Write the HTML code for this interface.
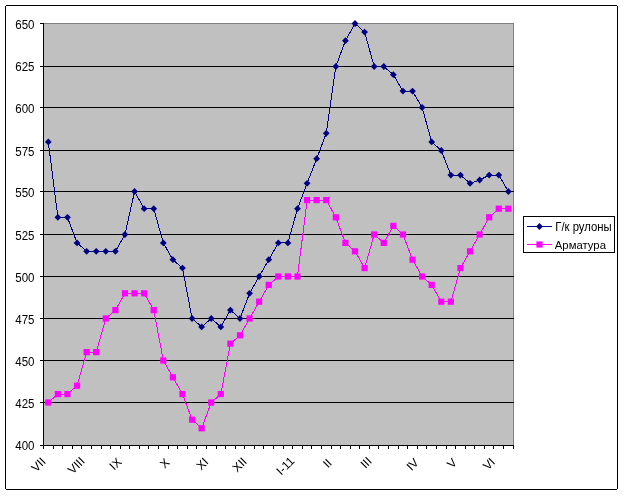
<!DOCTYPE html>
<html><head><meta charset="utf-8"><style>
html,body{margin:0;padding:0;background:#fff;width:628px;height:496px;overflow:hidden;font-family:"Liberation Sans", sans-serif;}
svg{display:block;will-change:transform;}
</style></head><body>
<svg width="628" height="496" viewBox="0 0 628 496">
<rect x="0" y="0" width="628" height="496" fill="#fff"/>
<g shape-rendering="crispEdges" fill="#000">
<rect x="6" y="5" width="611" height="1"/>
<rect x="6" y="489" width="611" height="1"/>
<rect x="5" y="6" width="1" height="483"/>
<rect x="617" y="6" width="1" height="483"/>
</g>
<g shape-rendering="crispEdges">
<rect x="44" y="24" width="469" height="421" fill="#C0C0C0"/>
<rect x="44" y="23" width="470" height="1" fill="#808080"/>
<rect x="513" y="23" width="1" height="422" fill="#808080"/>
<rect x="40" y="23" width="4" height="1" fill="#000"/>
<rect x="40" y="66" width="474" height="1" fill="#000"/>
<rect x="40" y="107" width="474" height="1" fill="#000"/>
<rect x="40" y="150" width="474" height="1" fill="#000"/>
<rect x="40" y="191" width="474" height="1" fill="#000"/>
<rect x="40" y="234" width="474" height="1" fill="#000"/>
<rect x="40" y="276" width="474" height="1" fill="#000"/>
<rect x="40" y="318" width="474" height="1" fill="#000"/>
<rect x="40" y="360" width="474" height="1" fill="#000"/>
<rect x="40" y="402" width="474" height="1" fill="#000"/>
<rect x="40" y="445" width="474" height="1" fill="#000"/>
<rect x="43" y="23" width="1" height="423" fill="#000"/>
<rect x="43" y="445" width="1" height="4" fill="#000"/>
<rect x="53" y="445" width="1" height="4" fill="#000"/>
<rect x="62" y="445" width="1" height="4" fill="#000"/>
<rect x="72" y="445" width="1" height="4" fill="#000"/>
<rect x="81" y="445" width="1" height="4" fill="#000"/>
<rect x="91" y="445" width="1" height="4" fill="#000"/>
<rect x="101" y="445" width="1" height="4" fill="#000"/>
<rect x="110" y="445" width="1" height="4" fill="#000"/>
<rect x="120" y="445" width="1" height="4" fill="#000"/>
<rect x="129" y="445" width="1" height="4" fill="#000"/>
<rect x="139" y="445" width="1" height="4" fill="#000"/>
<rect x="148" y="445" width="1" height="4" fill="#000"/>
<rect x="158" y="445" width="1" height="4" fill="#000"/>
<rect x="168" y="445" width="1" height="4" fill="#000"/>
<rect x="177" y="445" width="1" height="4" fill="#000"/>
<rect x="187" y="445" width="1" height="4" fill="#000"/>
<rect x="196" y="445" width="1" height="4" fill="#000"/>
<rect x="206" y="445" width="1" height="4" fill="#000"/>
<rect x="216" y="445" width="1" height="4" fill="#000"/>
<rect x="225" y="445" width="1" height="4" fill="#000"/>
<rect x="235" y="445" width="1" height="4" fill="#000"/>
<rect x="244" y="445" width="1" height="4" fill="#000"/>
<rect x="254" y="445" width="1" height="4" fill="#000"/>
<rect x="263" y="445" width="1" height="4" fill="#000"/>
<rect x="273" y="445" width="1" height="4" fill="#000"/>
<rect x="283" y="445" width="1" height="4" fill="#000"/>
<rect x="292" y="445" width="1" height="4" fill="#000"/>
<rect x="302" y="445" width="1" height="4" fill="#000"/>
<rect x="311" y="445" width="1" height="4" fill="#000"/>
<rect x="321" y="445" width="1" height="4" fill="#000"/>
<rect x="331" y="445" width="1" height="4" fill="#000"/>
<rect x="340" y="445" width="1" height="4" fill="#000"/>
<rect x="350" y="445" width="1" height="4" fill="#000"/>
<rect x="359" y="445" width="1" height="4" fill="#000"/>
<rect x="369" y="445" width="1" height="4" fill="#000"/>
<rect x="378" y="445" width="1" height="4" fill="#000"/>
<rect x="388" y="445" width="1" height="4" fill="#000"/>
<rect x="398" y="445" width="1" height="4" fill="#000"/>
<rect x="407" y="445" width="1" height="4" fill="#000"/>
<rect x="417" y="445" width="1" height="4" fill="#000"/>
<rect x="426" y="445" width="1" height="4" fill="#000"/>
<rect x="436" y="445" width="1" height="4" fill="#000"/>
<rect x="446" y="445" width="1" height="4" fill="#000"/>
<rect x="455" y="445" width="1" height="4" fill="#000"/>
<rect x="465" y="445" width="1" height="4" fill="#000"/>
<rect x="474" y="445" width="1" height="4" fill="#000"/>
<rect x="484" y="445" width="1" height="4" fill="#000"/>
<rect x="493" y="445" width="1" height="4" fill="#000"/>
<rect x="503" y="445" width="1" height="4" fill="#000"/>
<rect x="513" y="445" width="1" height="4" fill="#000"/>
</g>
<polyline points="48.29,402.50 57.88,394.10 67.46,394.10 77.05,385.70 86.63,352.10 96.22,352.10 105.80,318.50 115.39,310.10 124.97,293.30 134.56,293.30 144.14,293.30 153.73,310.10 163.31,360.50 172.90,377.30 182.48,394.10 192.07,419.70 201.65,428.30 211.24,402.50 220.82,394.10 230.41,343.70 239.99,335.30 249.58,318.50 259.16,301.70 268.75,284.90 278.33,276.50 287.92,276.50 297.50,276.50 307.09,200.10 316.67,200.10 326.26,200.10 335.84,217.30 345.43,242.90 355.01,251.30 364.60,268.10 374.18,234.50 383.77,242.90 393.35,225.90 402.94,234.50 412.52,259.70 422.11,276.50 431.69,284.90 441.28,301.70 450.86,301.70 460.45,268.10 470.03,251.30 479.62,234.50 489.20,217.30 498.79,208.70 508.37,208.70" fill="none" stroke="#FF00FF" stroke-width="1" shape-rendering="crispEdges"/>
<rect x="45.19" y="399.40" width="6.2" height="6.2" fill="#FF00FF"/>
<rect x="54.78" y="391.00" width="6.2" height="6.2" fill="#FF00FF"/>
<rect x="64.36" y="391.00" width="6.2" height="6.2" fill="#FF00FF"/>
<rect x="73.95" y="382.60" width="6.2" height="6.2" fill="#FF00FF"/>
<rect x="83.53" y="349.00" width="6.2" height="6.2" fill="#FF00FF"/>
<rect x="93.12" y="349.00" width="6.2" height="6.2" fill="#FF00FF"/>
<rect x="102.70" y="315.40" width="6.2" height="6.2" fill="#FF00FF"/>
<rect x="112.29" y="307.00" width="6.2" height="6.2" fill="#FF00FF"/>
<rect x="121.87" y="290.20" width="6.2" height="6.2" fill="#FF00FF"/>
<rect x="131.46" y="290.20" width="6.2" height="6.2" fill="#FF00FF"/>
<rect x="141.04" y="290.20" width="6.2" height="6.2" fill="#FF00FF"/>
<rect x="150.63" y="307.00" width="6.2" height="6.2" fill="#FF00FF"/>
<rect x="160.21" y="357.40" width="6.2" height="6.2" fill="#FF00FF"/>
<rect x="169.80" y="374.20" width="6.2" height="6.2" fill="#FF00FF"/>
<rect x="179.38" y="391.00" width="6.2" height="6.2" fill="#FF00FF"/>
<rect x="188.97" y="416.60" width="6.2" height="6.2" fill="#FF00FF"/>
<rect x="198.55" y="425.20" width="6.2" height="6.2" fill="#FF00FF"/>
<rect x="208.14" y="399.40" width="6.2" height="6.2" fill="#FF00FF"/>
<rect x="217.72" y="391.00" width="6.2" height="6.2" fill="#FF00FF"/>
<rect x="227.31" y="340.60" width="6.2" height="6.2" fill="#FF00FF"/>
<rect x="236.89" y="332.20" width="6.2" height="6.2" fill="#FF00FF"/>
<rect x="246.48" y="315.40" width="6.2" height="6.2" fill="#FF00FF"/>
<rect x="256.06" y="298.60" width="6.2" height="6.2" fill="#FF00FF"/>
<rect x="265.65" y="281.80" width="6.2" height="6.2" fill="#FF00FF"/>
<rect x="275.23" y="273.40" width="6.2" height="6.2" fill="#FF00FF"/>
<rect x="284.82" y="273.40" width="6.2" height="6.2" fill="#FF00FF"/>
<rect x="294.40" y="273.40" width="6.2" height="6.2" fill="#FF00FF"/>
<rect x="303.99" y="197.00" width="6.2" height="6.2" fill="#FF00FF"/>
<rect x="313.57" y="197.00" width="6.2" height="6.2" fill="#FF00FF"/>
<rect x="323.16" y="197.00" width="6.2" height="6.2" fill="#FF00FF"/>
<rect x="332.74" y="214.20" width="6.2" height="6.2" fill="#FF00FF"/>
<rect x="342.33" y="239.80" width="6.2" height="6.2" fill="#FF00FF"/>
<rect x="351.91" y="248.20" width="6.2" height="6.2" fill="#FF00FF"/>
<rect x="361.50" y="265.00" width="6.2" height="6.2" fill="#FF00FF"/>
<rect x="371.08" y="231.40" width="6.2" height="6.2" fill="#FF00FF"/>
<rect x="380.67" y="239.80" width="6.2" height="6.2" fill="#FF00FF"/>
<rect x="390.25" y="222.80" width="6.2" height="6.2" fill="#FF00FF"/>
<rect x="399.84" y="231.40" width="6.2" height="6.2" fill="#FF00FF"/>
<rect x="409.42" y="256.60" width="6.2" height="6.2" fill="#FF00FF"/>
<rect x="419.01" y="273.40" width="6.2" height="6.2" fill="#FF00FF"/>
<rect x="428.59" y="281.80" width="6.2" height="6.2" fill="#FF00FF"/>
<rect x="438.18" y="298.60" width="6.2" height="6.2" fill="#FF00FF"/>
<rect x="447.76" y="298.60" width="6.2" height="6.2" fill="#FF00FF"/>
<rect x="457.35" y="265.00" width="6.2" height="6.2" fill="#FF00FF"/>
<rect x="466.93" y="248.20" width="6.2" height="6.2" fill="#FF00FF"/>
<rect x="476.52" y="231.40" width="6.2" height="6.2" fill="#FF00FF"/>
<rect x="486.10" y="214.20" width="6.2" height="6.2" fill="#FF00FF"/>
<rect x="495.69" y="205.60" width="6.2" height="6.2" fill="#FF00FF"/>
<rect x="505.27" y="205.60" width="6.2" height="6.2" fill="#FF00FF"/>
<polyline points="48.29,141.90 57.88,217.30 67.46,217.30 77.05,242.90 86.63,251.30 96.22,251.30 105.80,251.30 115.39,251.30 124.97,234.50 134.56,191.50 144.14,208.70 153.73,208.70 163.31,242.90 172.90,259.70 182.48,268.10 192.07,318.50 201.65,326.90 211.24,318.50 220.82,326.90 230.41,310.10 239.99,318.50 249.58,293.30 259.16,276.50 268.75,259.70 278.33,242.90 287.92,242.90 297.50,208.70 307.09,183.30 316.67,158.70 326.26,133.30 335.84,66.50 345.43,40.70 355.01,23.50 364.60,32.10 374.18,66.50 383.77,66.50 393.35,74.70 402.94,91.10 412.52,91.10 422.11,107.50 431.69,141.90 441.28,150.50 450.86,175.10 460.45,175.10 470.03,183.30 479.62,180.02 489.20,175.10 498.79,175.10 508.37,191.50" fill="none" stroke="#000080" stroke-width="1" shape-rendering="crispEdges"/>
<path d="M44.89 141.90L48.29 138.50L51.69 141.90L48.29 145.30Z" fill="#000080"/>
<path d="M54.48 217.30L57.88 213.90L61.28 217.30L57.88 220.70Z" fill="#000080"/>
<path d="M64.06 217.30L67.46 213.90L70.86 217.30L67.46 220.70Z" fill="#000080"/>
<path d="M73.65 242.90L77.05 239.50L80.45 242.90L77.05 246.30Z" fill="#000080"/>
<path d="M83.23 251.30L86.63 247.90L90.03 251.30L86.63 254.70Z" fill="#000080"/>
<path d="M92.82 251.30L96.22 247.90L99.62 251.30L96.22 254.70Z" fill="#000080"/>
<path d="M102.40 251.30L105.80 247.90L109.20 251.30L105.80 254.70Z" fill="#000080"/>
<path d="M111.99 251.30L115.39 247.90L118.79 251.30L115.39 254.70Z" fill="#000080"/>
<path d="M121.57 234.50L124.97 231.10L128.37 234.50L124.97 237.90Z" fill="#000080"/>
<path d="M131.16 191.50L134.56 188.10L137.96 191.50L134.56 194.90Z" fill="#000080"/>
<path d="M140.74 208.70L144.14 205.30L147.54 208.70L144.14 212.10Z" fill="#000080"/>
<path d="M150.33 208.70L153.73 205.30L157.13 208.70L153.73 212.10Z" fill="#000080"/>
<path d="M159.91 242.90L163.31 239.50L166.71 242.90L163.31 246.30Z" fill="#000080"/>
<path d="M169.50 259.70L172.90 256.30L176.30 259.70L172.90 263.10Z" fill="#000080"/>
<path d="M179.08 268.10L182.48 264.70L185.88 268.10L182.48 271.50Z" fill="#000080"/>
<path d="M188.67 318.50L192.07 315.10L195.47 318.50L192.07 321.90Z" fill="#000080"/>
<path d="M198.25 326.90L201.65 323.50L205.05 326.90L201.65 330.30Z" fill="#000080"/>
<path d="M207.84 318.50L211.24 315.10L214.64 318.50L211.24 321.90Z" fill="#000080"/>
<path d="M217.42 326.90L220.82 323.50L224.22 326.90L220.82 330.30Z" fill="#000080"/>
<path d="M227.01 310.10L230.41 306.70L233.81 310.10L230.41 313.50Z" fill="#000080"/>
<path d="M236.59 318.50L239.99 315.10L243.39 318.50L239.99 321.90Z" fill="#000080"/>
<path d="M246.18 293.30L249.58 289.90L252.98 293.30L249.58 296.70Z" fill="#000080"/>
<path d="M255.76 276.50L259.16 273.10L262.56 276.50L259.16 279.90Z" fill="#000080"/>
<path d="M265.35 259.70L268.75 256.30L272.15 259.70L268.75 263.10Z" fill="#000080"/>
<path d="M274.93 242.90L278.33 239.50L281.73 242.90L278.33 246.30Z" fill="#000080"/>
<path d="M284.52 242.90L287.92 239.50L291.32 242.90L287.92 246.30Z" fill="#000080"/>
<path d="M294.10 208.70L297.50 205.30L300.90 208.70L297.50 212.10Z" fill="#000080"/>
<path d="M303.69 183.30L307.09 179.90L310.49 183.30L307.09 186.70Z" fill="#000080"/>
<path d="M313.27 158.70L316.67 155.30L320.07 158.70L316.67 162.10Z" fill="#000080"/>
<path d="M322.86 133.30L326.26 129.90L329.66 133.30L326.26 136.70Z" fill="#000080"/>
<path d="M332.44 66.50L335.84 63.10L339.24 66.50L335.84 69.90Z" fill="#000080"/>
<path d="M342.03 40.70L345.43 37.30L348.83 40.70L345.43 44.10Z" fill="#000080"/>
<path d="M351.61 23.50L355.01 20.10L358.41 23.50L355.01 26.90Z" fill="#000080"/>
<path d="M361.20 32.10L364.60 28.70L368.00 32.10L364.60 35.50Z" fill="#000080"/>
<path d="M370.78 66.50L374.18 63.10L377.58 66.50L374.18 69.90Z" fill="#000080"/>
<path d="M380.37 66.50L383.77 63.10L387.17 66.50L383.77 69.90Z" fill="#000080"/>
<path d="M389.95 74.70L393.35 71.30L396.75 74.70L393.35 78.10Z" fill="#000080"/>
<path d="M399.54 91.10L402.94 87.70L406.34 91.10L402.94 94.50Z" fill="#000080"/>
<path d="M409.12 91.10L412.52 87.70L415.92 91.10L412.52 94.50Z" fill="#000080"/>
<path d="M418.71 107.50L422.11 104.10L425.51 107.50L422.11 110.90Z" fill="#000080"/>
<path d="M428.29 141.90L431.69 138.50L435.09 141.90L431.69 145.30Z" fill="#000080"/>
<path d="M437.88 150.50L441.28 147.10L444.68 150.50L441.28 153.90Z" fill="#000080"/>
<path d="M447.46 175.10L450.86 171.70L454.26 175.10L450.86 178.50Z" fill="#000080"/>
<path d="M457.05 175.10L460.45 171.70L463.85 175.10L460.45 178.50Z" fill="#000080"/>
<path d="M466.63 183.30L470.03 179.90L473.43 183.30L470.03 186.70Z" fill="#000080"/>
<path d="M476.22 180.02L479.62 176.62L483.02 180.02L479.62 183.42Z" fill="#000080"/>
<path d="M485.80 175.10L489.20 171.70L492.60 175.10L489.20 178.50Z" fill="#000080"/>
<path d="M495.39 175.10L498.79 171.70L502.19 175.10L498.79 178.50Z" fill="#000080"/>
<path d="M504.97 191.50L508.37 188.10L511.77 191.50L508.37 194.90Z" fill="#000080"/>
<g font-family="Liberation Sans, sans-serif" font-size="12" fill="#000" text-anchor="end">
<text transform="translate(34.5,29) scale(0.96,1)">650</text>
<text transform="translate(34.5,71) scale(0.96,1)">625</text>
<text transform="translate(34.5,113) scale(0.96,1)">600</text>
<text transform="translate(34.5,156) scale(0.96,1)">575</text>
<text transform="translate(34.5,197) scale(0.96,1)">550</text>
<text transform="translate(34.5,240) scale(0.96,1)">525</text>
<text transform="translate(34.5,282) scale(0.96,1)">500</text>
<text transform="translate(34.5,324) scale(0.96,1)">475</text>
<text transform="translate(34.5,366) scale(0.96,1)">450</text>
<text transform="translate(34.5,408) scale(0.96,1)">425</text>
<text transform="translate(34.5,450) scale(0.96,1)">400</text>
</g>
<g font-family="Liberation Sans, sans-serif" font-size="12" fill="#000" text-anchor="end">
<text transform="translate(40.85,456.75) rotate(-45)" x="0" y="8">VII</text>
<text transform="translate(79.86,456.25) rotate(-45)" x="0" y="8">VIII</text>
<text transform="translate(116.73,457.10) rotate(-45)" x="0" y="8">IX</text>
<text transform="translate(164.79,457.65) rotate(-45)" x="0" y="8">X</text>
<text transform="translate(203.56,457.10) rotate(-45)" x="0" y="8">XI</text>
<text transform="translate(241.97,456.75) rotate(-45)" x="0" y="8">XII</text>
<text transform="translate(289.63,456.15) rotate(-45)" x="0" y="8">I-11</text>
<text transform="translate(327.05,458.15) rotate(-45)" x="0" y="8">II</text>
<text transform="translate(366.87,456.30) rotate(-45)" x="0" y="8">III</text>
<text transform="translate(413.83,457.60) rotate(-45)" x="0" y="8">IV</text>
<text transform="translate(451.99,457.70) rotate(-45)" x="0" y="8">V</text>
<text transform="translate(490.31,457.15) rotate(-45)" x="0" y="8">VI</text>
</g>
<g shape-rendering="crispEdges" fill="#000">
<rect x="523" y="216" width="92" height="1"/>
<rect x="523" y="252" width="92" height="1"/>
<rect x="523" y="216" width="1" height="37"/>
<rect x="614" y="216" width="1" height="37"/>
</g>
<rect x="527" y="226" width="25" height="1" fill="#000080" shape-rendering="crispEdges"/>
<path d="M536.1 226.5L539.5 223.1L542.9 226.5L539.5 229.9Z" fill="#000080"/>
<rect x="527" y="244" width="25" height="1" fill="#FF00FF" shape-rendering="crispEdges"/>
<rect x="536.4" y="241.4" width="6.2" height="6.2" fill="#FF00FF"/>
<g font-family="Liberation Sans, sans-serif" font-size="12" fill="#000">
<text transform="translate(555.3,231) scale(0.945,1)">Г/к рулоны</text>
<text transform="translate(554.8,248.6) scale(0.945,0.96)">Арматура</text>
</g>
</svg>
</body></html>
